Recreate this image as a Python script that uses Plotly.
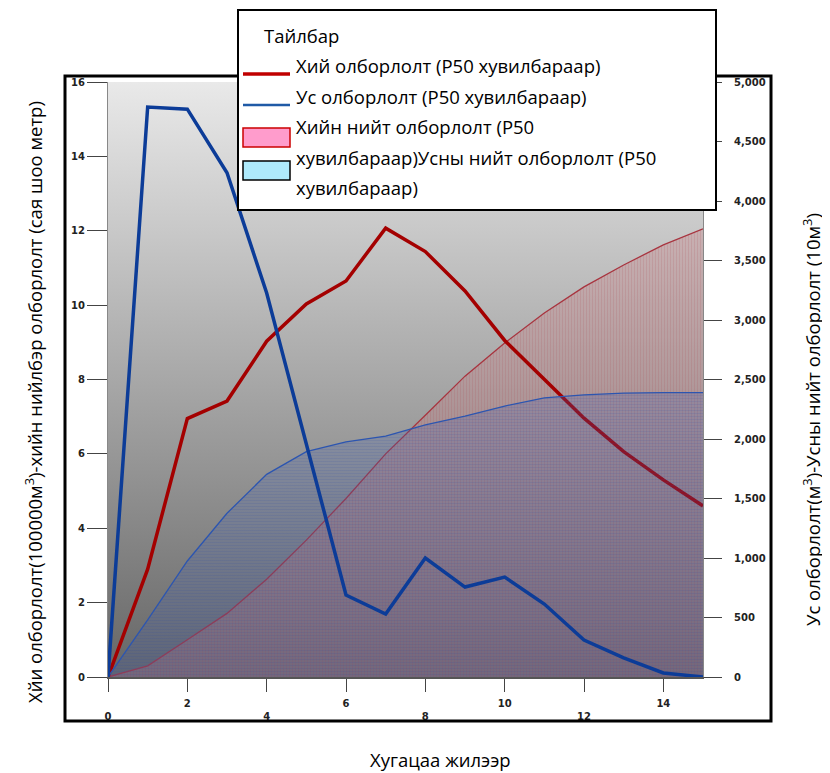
import base64
import plotly.graph_objects as go

# ---------------- data ----------------
years = list(range(16))
gas_rate = [0, 2.9, 6.95, 7.42, 9.03, 10.03, 10.65, 12.07, 11.44, 10.38, 9.05, 8.0, 6.96, 6.06, 5.3, 4.6]
water_rate = [0, 4790, 4772, 4237, 3227, 1950, 689, 529, 1000, 756, 840, 613, 311, 160, 34, 0]
cum_gas = [0, 0.3, 1.0, 1.71, 2.63, 3.68, 4.8, 6.0, 7.04, 8.09, 8.98, 9.79, 10.49, 11.08, 11.62, 12.05]
cum_water = [0, 480, 975, 1376, 1703, 1893, 1975, 2025, 2118, 2193, 2277, 2345, 2370, 2386, 2390, 2390]

x_tickvals = [0, 2, 4, 6, 8, 10, 12, 14]
x_ticklabels = ["0", "2", "4", "6", "8", "10", "12", "14"]

legend_title = "Тайлбар"
name_gas = "Хий олборлолт (P50 хувилбараар)"
name_water = "Ус олборлолт (P50 хувилбараар)"
legend_lines = ["Хийн нийт олборлолт (P50", "хувилбараар)Усны нийт олборлолт (P50", "хувилбараар)"]
left_title = "Хйи олборлолт(100000м<sup>3</sup>)-хийн нийлбэр олборлолт (сая шоо метр)"
right_title = "Ус олборлолт(м<sup>3</sup>)-Усны нийт олборлолт (10м<sup>3</sup>)"
x_title = "Хугацаа жилээр"

# ---------------- layout geometry (viewport pixels) ----------------
VW, VH = 830, 773
OFF = 8  # page body margin
W, H = VW - OFF, VH - OFF
PL, PR, PT, PB = 108, 703, 82, 677  # plot area in viewport pixels


def px(x):
    return (x - PL) / (PR - PL)


def py(y):
    return (PB - y) / (PB - PT)


FONT = "Open Sans"
TICKFONT = dict(family="DejaVu Sans", size=10, color="#222", weight="bold")

fig = go.Figure()

# cumulative gas (hatched red)
fig.add_trace(go.Scatter(
    x=years, y=cum_gas, mode="lines", fill="tozeroy",
    line=dict(color="#a8343f", width=1.3),
    fillpattern=dict(shape="|", size=3, solidity=0.45,
                     fgcolor="rgba(160,60,70,0.35)", bgcolor="rgba(205,125,130,0.28)"),
    showlegend=False, yaxis="y"))

# cumulative water (hatched blue)
fig.add_trace(go.Scatter(
    x=years, y=cum_water, mode="lines", fill="tozeroy",
    line=dict(color="#2c55b0", width=1.3),
    fillpattern=dict(shape="-", size=3, solidity=0.45,
                     fgcolor="rgba(40,70,160,0.28)", bgcolor="rgba(60,95,180,0.20)"),
    showlegend=False, yaxis="y2"))

# gas rate
fig.add_trace(go.Scatter(x=years, y=gas_rate, mode="lines",
                         line=dict(color="#a40000", width=3.5),
                         showlegend=False, yaxis="y"))
# water rate
fig.add_trace(go.Scatter(x=years, y=water_rate, mode="lines",
                         line=dict(color="#0c3c98", width=3.5),
                         showlegend=False, yaxis="y2"))

# gradient background via svg image
svg = ('<svg xmlns="http://www.w3.org/2000/svg" width="100" height="100" preserveAspectRatio="none">'
       '<defs><linearGradient id="g" x1="0" y1="0" x2="0" y2="1">'
       '<stop offset="0" stop-color="#e9e9e9"/><stop offset="1" stop-color="#666666"/>'
       '</linearGradient></defs><rect width="100" height="100" fill="url(#g)"/></svg>')
src = "data:image/svg+xml;base64," + base64.b64encode(svg.encode()).decode()

shapes = []
# outer frame
shapes.append(dict(type="rect", xref="paper", yref="paper",
                   x0=px(65), x1=px(771), y0=py(721), y1=py(76),
                   line=dict(color="black", width=3), fillcolor="rgba(0,0,0,0)", layer="above"))
# legend box
shapes.append(dict(type="rect", xref="paper", yref="paper",
                   x0=px(238), x1=px(716), y0=py(210), y1=py(10),
                   line=dict(color="black", width=2), fillcolor="white", layer="above"))
# legend symbols
shapes.append(dict(type="line", xref="paper", yref="paper",
                   x0=px(243), x1=px(290), y0=py(74), y1=py(74),
                   line=dict(color="#c00000", width=3.5), layer="above"))
shapes.append(dict(type="line", xref="paper", yref="paper",
                   x0=px(243), x1=px(290), y0=py(105), y1=py(105),
                   line=dict(color="#1f5aa6", width=2.5), layer="above"))
shapes.append(dict(type="rect", xref="paper", yref="paper",
                   x0=px(243), x1=px(290), y0=py(147), y1=py(128),
                   line=dict(color="#cc0000", width=1.5), fillcolor="#ff9ccc", layer="above"))
shapes.append(dict(type="rect", xref="paper", yref="paper",
                   x0=px(243), x1=px(290), y0=py(180), y1=py(161),
                   line=dict(color="black", width=1.5), fillcolor="#aeeafc", layer="above"))

LF = dict(family=FONT, size=18.5, color="black")
annotations = [
    dict(text=legend_title, x=px(262), y=py(35)),
    dict(text=name_gas, x=px(294), y=py(65)),
    dict(text=name_water, x=px(294), y=py(96)),
    dict(text=legend_lines[0], x=px(294), y=py(127)),
    dict(text=legend_lines[1], x=px(294), y=py(157)),
    dict(text=legend_lines[2], x=px(294), y=py(187)),
]
for a in annotations:
    a.update(xref="paper", yref="paper", xanchor="left", yanchor="middle",
             showarrow=False, font=LF)

annotations += [
    dict(text=left_title, x=px(33), y=py(402), xref="paper", yref="paper",
         textangle=-90, showarrow=False, font=LF, xanchor="center", yanchor="middle"),
    dict(text=right_title, x=px(811), y=py(420), xref="paper", yref="paper",
         textangle=-90, showarrow=False, font=LF, xanchor="center", yanchor="middle"),
    dict(text=x_title, x=px(440), y=py(759), xref="paper", yref="paper",
         showarrow=False, font=LF, xanchor="center", yanchor="middle"),
]

# staggered x tick labels (two-line labels, alternate rows)
x_ticktext = [("\u00a0<br>" + t) if i % 2 == 0 else (t + "<br>\u00a0")
              for i, t in enumerate(x_ticklabels)]

fig.update_layout(
    width=W, height=H,
    margin=dict(l=PL - OFF, r=VW - PR, t=PT - OFF, b=VH - PB, pad=0),
    paper_bgcolor="white", plot_bgcolor="rgba(0,0,0,0)",
    showlegend=False,
    images=[dict(source=src, xref="x domain", yref="y domain", x=0, y=1,
                 sizex=1, sizey=1, sizing="stretch", xanchor="left", yanchor="top",
                 layer="below")],
    shapes=shapes, annotations=annotations,
    xaxis=dict(range=[0, 15], tickvals=x_tickvals, ticktext=x_ticktext,
               ticks="outside", ticklen=13, tickcolor="#444", tickwidth=1,
               ticklabelstandoff=3,
               showline=True, linecolor="#555", linewidth=1.5,
               showgrid=False, zeroline=False, tickfont=TICKFONT),
    yaxis=dict(range=[0, 16], dtick=2, ticks="outside", ticklen=20, tickcolor="#444",
               showline=True, linecolor="#888", linewidth=1,
               showgrid=False, zeroline=False, tickfont=TICKFONT),
    yaxis2=dict(range=[0, 5000], dtick=500, tickformat=",", overlaying="y", side="right",
                ticks="outside", ticklen=18, tickcolor="#444", ticklabelstandoff=10,
                showline=True, linecolor="#888", linewidth=1,
                showgrid=False, zeroline=False, tickfont=TICKFONT),
)

fig.write_html("out.html")
